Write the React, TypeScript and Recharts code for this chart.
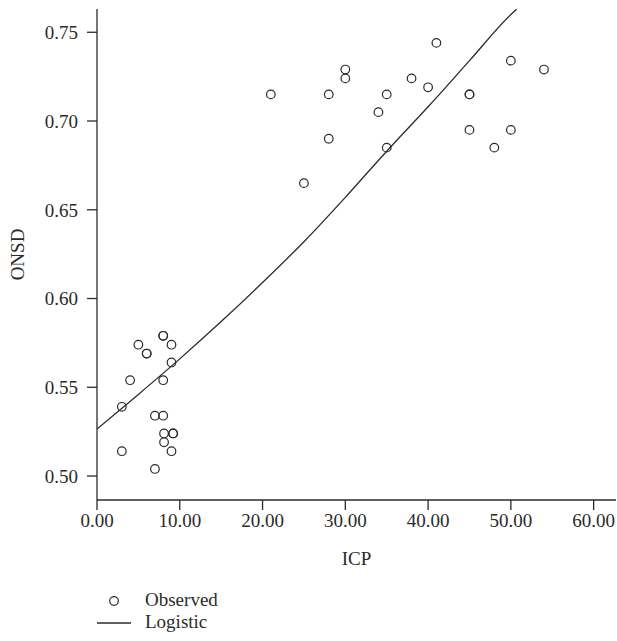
import React from "react";
import {
  ScatterChart,
  Scatter,
  XAxis,
  YAxis,
  Label,
} from "recharts";

// observed ICP / ONSD pairs
const icpObserved = [
  21, 25, 28, 28, 30, 30, 34, 35, 35, 38, 40, 41, 45, 45, 45, 48, 50, 50, 54,
  3, 3, 4, 5, 6, 6, 7, 7, 8, 8, 8, 8, 8.1, 8.1, 9, 9, 9, 9.2, 9.2,
];
const onsdObserved = [
  0.715, 0.665, 0.715, 0.69, 0.729, 0.724, 0.705, 0.715, 0.685, 0.724, 0.719,
  0.744, 0.715, 0.715, 0.695, 0.685, 0.734, 0.695, 0.729,
  0.539, 0.514, 0.554, 0.574, 0.569, 0.569, 0.534, 0.504, 0.579, 0.579, 0.554,
  0.534, 0.524, 0.519, 0.574, 0.564, 0.514, 0.524, 0.524,
];

// logistic fit curve
const icpFit = [0, 5, 10, 15, 20, 25, 30, 35, 40, 45, 50, 50.7];
const onsdFit = [
  0.5265, 0.546, 0.566, 0.587, 0.609, 0.632, 0.657, 0.683, 0.708, 0.734, 0.76,
  0.763,
];

const xTicks = [0, 10, 20, 30, 40, 50, 60];
const yTicks = [0.5, 0.55, 0.6, 0.65, 0.7, 0.75];

const observed = icpObserved.map((icp, i) => ({ icp, onsd: onsdObserved[i] }));
const fitted = icpFit.map((icp, i) => ({ icp, onsd: onsdFit[i] }));

const X_DOMAIN: [number, number] = [0, 62.7];
const Y_DOMAIN: [number, number] = [0.4865, 0.7631];

const INK = "#2b2b2b";
const FONT = "'Liberation Serif', 'DejaVu Serif', serif";

const tickStyle = { fill: INK, fontSize: 19, fontFamily: FONT };

const OpenCircle = (props: any) => (
  <circle
    cx={props.cx}
    cy={props.cy}
    r={4.3}
    fill="none"
    stroke={INK}
    strokeWidth={1.2}
  />
);

const App: React.FC = () => {
  return (
    <div style={{ position: "absolute", left: 0, top: 0, width: 617, height: 641, background: "#fff" }}>
      <ScatterChart
        width={617}
        height={641}
        margin={{ top: 9, right: 1, left: 0, bottom: 71 }}
      >
        <XAxis
          type="number"
          dataKey="icp"
          domain={X_DOMAIN}
          ticks={xTicks}
          tickFormatter={(v: number) => v.toFixed(2)}
          allowDataOverflow
          height={70}
          tickSize={10}
          tickMargin={4}
          tick={tickStyle}
          axisLine={{ stroke: INK, strokeWidth: 1.3 }}
          tickLine={{ stroke: INK, strokeWidth: 1.3 }}
        >
          <Label
            value="ICP"
            position="insideBottom"
            offset={5}
            style={{ fill: INK, fontSize: 19, fontFamily: FONT }}
          />
        </XAxis>
        <XAxis
          xAxisId="top"
          type="number"
          orientation="top"
          domain={X_DOMAIN}
          height={0}
          tick={false}
          tickLine={false}
          axisLine={{ stroke: INK, strokeWidth: 1.3 }}
        />
        <YAxis
          type="number"
          dataKey="onsd"
          domain={Y_DOMAIN}
          ticks={yTicks}
          tickFormatter={(v: number) => v.toFixed(2)}
          allowDataOverflow
          width={97}
          tickSize={10}
          tickMargin={9}
          tick={tickStyle}
          axisLine={{ stroke: INK, strokeWidth: 1.3 }}
          tickLine={{ stroke: INK, strokeWidth: 1.3 }}
        >
          <Label
            value="ONSD"
            angle={-90}
            position="insideLeft"
            offset={17}
            style={{ fill: INK, fontSize: 19, fontFamily: FONT, textAnchor: "middle" }}
          />
        </YAxis>
        <YAxis
          yAxisId="right"
          type="number"
          orientation="right"
          domain={Y_DOMAIN}
          width={0}
          tick={false}
          tickLine={false}
          axisLine={{ stroke: INK, strokeWidth: 1.3 }}
        />
        <Scatter
          name="Logistic"
          data={fitted}
          line={{ stroke: INK, strokeWidth: 1.3 }}
          lineJointType="monotoneX"
          shape={() => null}
          isAnimationActive={false}
        />
        <Scatter
          name="Observed"
          data={observed}
          shape={OpenCircle}
          isAnimationActive={false}
        />
      </ScatterChart>
      <div
        style={{
          position: "absolute",
          left: 96,
          top: 588,
          fontFamily: FONT,
          fontSize: 19,
          color: INK,
          lineHeight: "24px",
        }}
      >
        <div style={{ display: "flex", alignItems: "center" }}>
          <svg width={36} height={24}>
            <circle cx={18} cy={13} r={4.3} fill="none" stroke={INK} strokeWidth={1.2} />
          </svg>
          <span style={{ marginLeft: 13 }}>Observed</span>
        </div>
        <div style={{ display: "flex", alignItems: "center", marginTop: -2 }}>
          <svg width={36} height={24}>
            <line x1={1} y1={13} x2={35} y2={13} stroke={INK} strokeWidth={1.3} />
          </svg>
          <span style={{ marginLeft: 13 }}>Logistic</span>
        </div>
      </div>
    </div>
  );
};

export default App;
